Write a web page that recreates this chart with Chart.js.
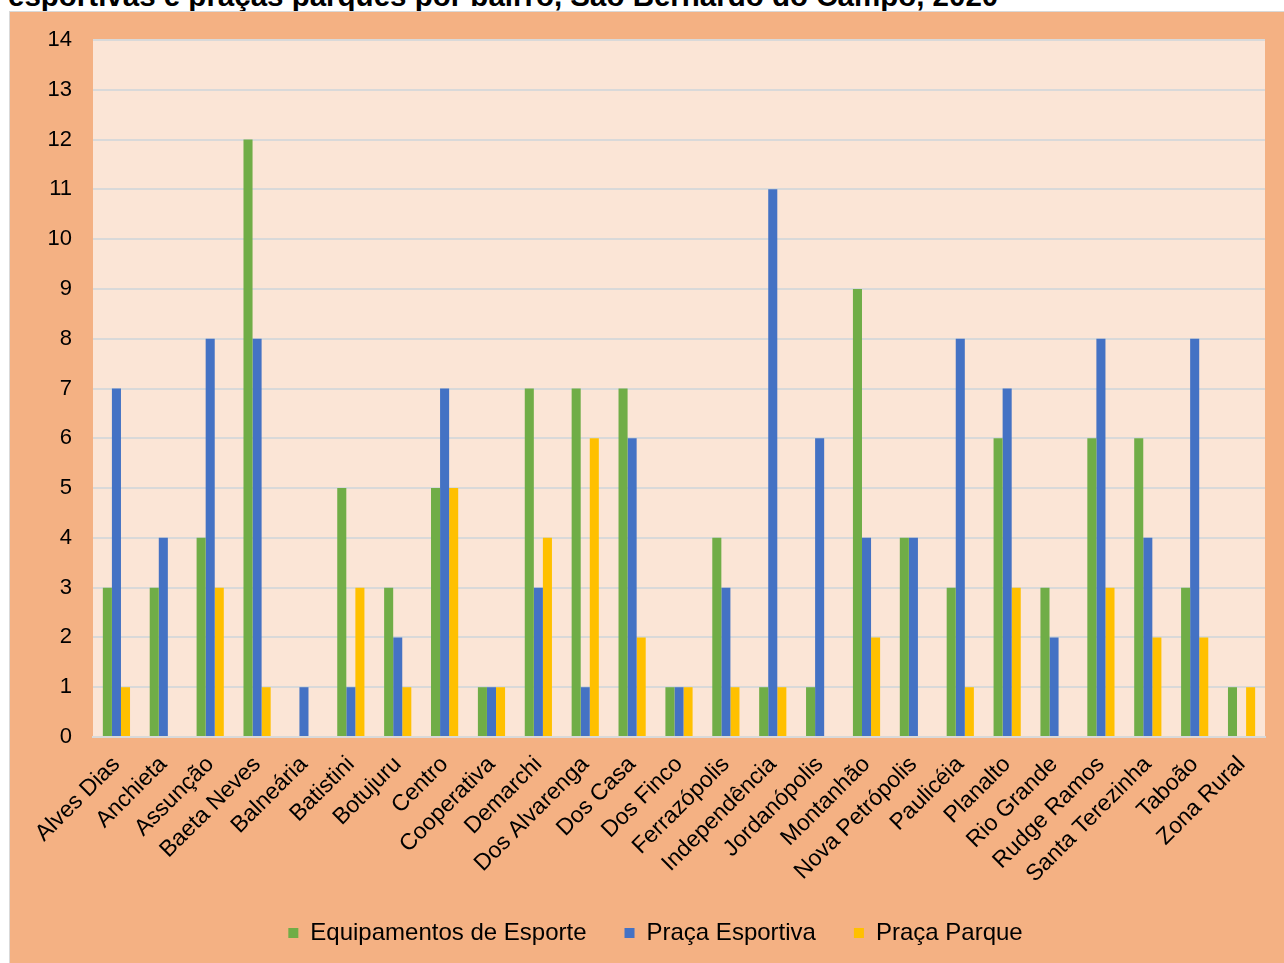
<!DOCTYPE html>
<html>
<head>
<meta charset="utf-8">
<script src="https://cdn.jsdelivr.net/npm/chart.js@4.4.1/dist/chart.umd.min.js"></script>
<style>
  body { margin: 0; background: #fff; width: 1284px; height: 963px; overflow: hidden; position: relative; font-family: "Liberation Sans", Arial, sans-serif; }
  #title { position: absolute; left: 8px; top: -19px; font-size: 29.5px; font-weight: bold; line-height: 1; white-space: nowrap; color: #000; }
  #box { position: absolute; left: 9px; top: 11px; width: 1275px; height: 952px; background: #F4B183; border-left: 1px solid #d9d9d9; border-top: 1px solid #d9d9d9; }
</style>
</head>
<body>
<div id="title">esportivas e praças parques por bairro, São Bernardo do Campo, 2020</div>
<div id="box"><canvas id="chart" width="1274" height="951"></canvas></div>
<script>
var bairros = ["Alves Dias", "Anchieta", "Assunção", "Baeta Neves", "Balneária", "Batistini", "Botujuru", "Centro", "Cooperativa", "Demarchi", "Dos Alvarenga", "Dos Casa", "Dos Finco", "Ferrazópolis", "Independência", "Jordanópolis", "Montanhão", "Nova Petrópolis", "Paulicéia", "Planalto", "Rio Grande", "Rudge Ramos", "Santa Terezinha", "Taboão", "Zona Rural"];
var equipamentos = [3, 3, 4, 12, 0, 5, 3, 5, 1, 7, 7, 7, 1, 4, 1, 1, 9, 4, 3, 6, 3, 6, 6, 3, 1];
var pracaEsportiva = [7, 4, 8, 8, 1, 1, 2, 7, 1, 3, 1, 6, 1, 3, 11, 6, 4, 4, 8, 7, 2, 8, 4, 8, 0];
var pracaParque = [1, 0, 3, 1, 0, 3, 1, 5, 1, 4, 6, 2, 1, 1, 1, 0, 2, 0, 1, 3, 0, 3, 2, 2, 1];

var plotBg = {
    id: "plotBg",
    afterLayout: function(chart) {
        // nudge the legend a bit to the right, like the original
        chart.legend.left += 13;
        chart.legend.right += 13;
    },
    beforeDraw: function(chart) {
        var a = chart.chartArea;
        var ctx = chart.ctx;
        ctx.save();
        ctx.fillStyle = "#FBE5D6";
        ctx.fillRect(a.left, a.top, a.right - a.left, a.bottom - a.top);
        ctx.restore();
    }
};

Chart.defaults.font.family = "'Liberation Sans', Arial, sans-serif";
Chart.defaults.color = "#000";

var ctx = document.getElementById("chart");
new Chart(ctx, {
    type: "bar",
    data: {
        labels: bairros,
        datasets: [
            { label: "Equipamentos de Esporte", data: equipamentos, backgroundColor: "#70AD47" },
            { label: "Praça Esportiva", data: pracaEsportiva, backgroundColor: "#4472C4" },
            { label: "Praça Parque", data: pracaParque, backgroundColor: "#FFC000" }
        ]
    },
    options: {
        responsive: false,
        animation: false,
        layout: { padding: { left: 10, right: 19, top: 28, bottom: 8 } },
        datasets: { bar: { categoryPercentage: 0.58, barPercentage: 1.0 } },
        scales: {
            x: {
                grid: { display: false, drawTicks: false },
                border: { color: "#D9D9D9", width: 2 },
                ticks: { font: { size: 23 }, minRotation: 45, maxRotation: 45, autoSkip: false, padding: 14 },
                afterFit: function(axis) {
                    axis.height = 146;
                    axis.paddingTop = 0;
                    axis.paddingBottom = 0;
                }
            },
            y: {
                min: 0, max: 14,
                grid: { color: "#D9D9D9", lineWidth: 2, drawTicks: false },
                border: { display: false },
                ticks: { stepSize: 1, font: { size: 22 }, padding: 21 },
                afterFit: function(axis) {
                    axis.width = 73;
                    axis.paddingTop = 0;
                    axis.paddingBottom = 0;
                }
            }
        },
        plugins: {
            legend: {
                position: "bottom",
                labels: { font: { size: 24 }, boxWidth: 10, boxHeight: 10, padding: 38 }
            },
            tooltip: { enabled: false }
        }
    },
    plugins: [plotBg]
});
</script>
</body>
</html>
